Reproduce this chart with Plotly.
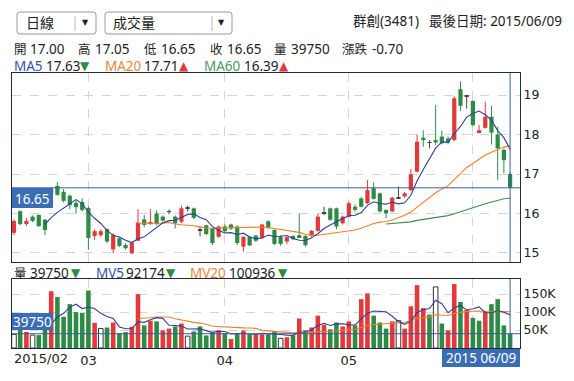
import plotly.graph_objects as go
import pandas as pd

# ---------------- data ----------------
opens = [15.51, 16.06, 15.73, 15.92, 15.96, 15.84, 16.50, 16.70, 16.55, 16.45,
         16.27, 16.29, 16.14, 15.43, 15.45, 15.60, 15.09, 15.37, 15.20, 14.99,
         15.31, 15.85, 15.74, 16.00, 15.92, 16.05, 15.92, 15.79, 16.13, 16.13,
         15.58, 15.70, 15.62, 15.41, 15.67, 15.72, 15.67, 15.16, 15.41, 15.44,
         15.38, 15.80, 15.58, 15.41, 15.29, 15.43, 15.45, 15.43, 15.43, 15.56,
         16.02, 16.13, 16.13, 15.75, 15.92, 16.17, 16.38, 16.26, 16.64, 16.51,
         16.09, 16.05, 16.40, 16.43, 16.59, 17.06, 17.92, 17.80, 17.86, 17.95,
         17.90, 17.86, 19.15, 18.98, 18.85, 18.06, 18.17, 18.45, 18.00, 17.61,
         17.00]
highs = [15.85, 16.08, 15.89, 15.95, 15.98, 15.86, 16.66, 16.80, 16.62, 16.48,
         16.33, 16.38, 16.18, 15.60, 15.60, 15.62, 15.50, 15.40, 15.25, 15.28,
         16.11, 15.96, 16.11, 16.08, 15.95, 16.10, 15.95, 16.20, 16.20, 16.15,
         15.67, 15.72, 15.64, 15.69, 15.72, 15.74, 15.70, 15.42, 15.43, 15.46,
         15.74, 15.83, 15.60, 15.45, 15.42, 15.46, 16.00, 15.45, 15.58, 16.00,
         16.17, 16.15, 16.15, 15.95, 16.30, 16.22, 16.42, 16.85, 16.79, 16.53,
         16.10, 16.42, 16.68, 16.55, 17.13, 18.00, 18.11, 17.86, 18.75, 18.10,
         17.95, 18.97, 19.35, 19.00, 18.87, 18.24, 18.83, 18.73, 18.20, 17.65,
         17.05]
lows = [15.45, 15.70, 15.68, 15.78, 15.66, 15.45, 16.44, 16.45, 16.28, 16.11,
        16.00, 16.05, 15.08, 15.33, 15.40, 15.25, 14.99, 15.15, 15.08, 14.97,
        15.30, 15.65, 15.71, 15.70, 15.80, 15.98, 15.62, 15.75, 16.05, 15.85,
        15.42, 15.45, 15.20, 15.38, 15.50, 15.58, 15.20, 15.03, 15.17, 15.28,
        15.36, 15.60, 15.20, 15.18, 15.22, 15.33, 15.38, 15.15, 15.40, 15.54,
        15.96, 15.82, 15.60, 15.72, 15.90, 16.05, 16.15, 16.24, 16.35, 16.03,
        15.88, 16.03, 16.40, 16.40, 16.57, 17.04, 17.69, 17.65, 17.73, 17.75,
        17.75, 17.84, 18.60, 18.66, 18.20, 18.03, 18.15, 17.75, 16.85, 17.02,
        16.65]
closes = [15.81, 15.73, 15.81, 15.81, 15.68, 15.58, 16.60, 16.47, 16.32, 16.21,
          16.16, 16.09, 15.38, 15.55, 15.55, 15.29, 15.46, 15.18, 15.12, 15.26,
          15.77, 15.71, 15.78, 15.73, 15.82, 16.05, 15.75, 16.13, 16.13, 15.89,
          15.58, 15.48, 15.25, 15.67, 15.55, 15.62, 15.25, 15.41, 15.19, 15.31,
          15.72, 15.63, 15.23, 15.23, 15.40, 15.35, 15.40, 15.20, 15.56, 15.92,
          16.02, 15.84, 15.67, 15.92, 16.26, 16.09, 16.17, 16.59, 16.37, 16.05,
          16.00, 16.40, 16.40, 16.51, 16.99, 17.82, 17.86, 17.80, 17.80, 17.78,
          17.80, 18.92, 18.73, 18.98, 18.24, 18.11, 18.45, 18.05, 17.65, 17.35,
          16.65]
volumes = [38000, 55000, 45000, 36000, 36000, 60000, 158000, 142000, 87000, 122000,
           100000, 98000, 160000, 70000, 54000, 57000, 71000, 41000, 44000, 59000,
           150000, 63000, 76000, 74000, 49000, 54000, 60000, 68000, 33000, 46000,
           60000, 35000, 44000, 49000, 41000, 25000, 41000, 49000, 38000, 38000,
           38000, 38000, 46000, 27000, 30000, 35000, 82000, 49000, 57000, 90000,
           65000, 52000, 71000, 60000, 74000, 63000, 136000, 152000, 90000, 71000,
           54000, 74000, 76000, 54000, 116000, 175000, 111000, 93000, 170000, 68000,
           49000, 178000, 128000, 106000, 84000, 76000, 100000, 122000, 136000, 63000,
           39750]
# volume bar state vs previous close: r = up, g = down, w = unchanged
vol_dir = list("wgrwggrggg" "gggrwgrggr" "rgrgrrgrwg" "gggrgrgrgr" "rggwrgrgrr"
               "rggrrgrrgg" "grwrrrrgwg" "rrgrggrggg" "g")

month_ticks = [12, 34, 54, 74]
month_labels = ["03", "04", "05", ""]
first_month_label = "2015/02"
last_date_label = "2015 06/09"
price_ticks = [15, 16, 17, 18, 19]
price_tick_labels = ["15", "16", "17", "18", "19"]
vol_ticks = [50000, 100000, 150000]
vol_tick_labels = ["50K", "100K", "150K"]

stock_name = "群創(3481)"
last_date_text = "最後日期: 2015/06/09"
period_label = "日線"
indicator_label = "成交量"
quote_names = ["開", "高", "低", "收", "量", "漲跌"]
quote_values = ["17.00", "17.05", "16.65", "16.65", "39750", "-0.70"]
ma_names = ["MA5", "MA20", "MA60"]
ma_values = ["17.63", "17.71", "16.39"]
ma_arrows = ["▼", "▲", "▲"]
vol_names = ["量", "MV5", "MV20"]
vol_values = ["39750", "92174", "100936"]
vol_arrows = ["▼", "▼", "▼"]
last_price_label = "16.65"
last_vol_label = "39750"

# ---------------- geometry helpers ----------------
W, H = 574, 381
ML, MR, MT, MB = 12, 54, 73, 33
PW = W - ML - MR
PH = H - MT - MB


def pxx(x):
    return (x - ML) / PW


def pxy(y):
    return (H - MB - y) / PH


RED = "#e2393c"
GREEN = "#2e8b46"
DOJI = "#444444"
BLUE_BOX = "#3b6db5"
LINE_BLUE = "#3a5f9a"
MA5_C = "#2e4196"
MA20_C = "#f07f2a"
MA60_C = "#3f8c4e"
MA5_T = "#3a4fa8"
MA20_T = "#f0823a"
MA60_T = "#4b9a5e"
AXIS_C = "#1d2b45"
GRID_C = "#d4d4d4"
TXT = "#222222"
FONT = "Noto Sans, Noto Sans CJK TC, sans-serif"
TICK_FONT = "DejaVu Sans, sans-serif"

N = len(closes)
xs = list(range(N))

fig = go.Figure()

# ---------------- candlesticks (wicks + bodies) ----------------
groups = {"r": ([], [], [], [], []), "g": ([], [], [], [], []), "d": ([], [], [], [], [])}
for i, (o, h, l, c) in enumerate(zip(opens, highs, lows, closes)):
    k = "r" if c > o else ("g" if c < o else "d")
    bx, bb, bh, wx, wy = groups[k]
    lo, hi = min(o, c), max(o, c)
    if hi - lo < 0.015:
        lo, hi = (o + c) / 2 - 0.009, (o + c) / 2 + 0.009
    bx.append(i)
    bb.append(lo)
    bh.append(hi - lo)
    wx += [i, i, None]
    wy += [l, h, None]

kcol = {"r": RED, "g": GREEN, "d": DOJI}
for k, (bx, bb, bh, wx, wy) in groups.items():
    fig.add_trace(go.Scatter(x=wx, y=wy, mode="lines", line=dict(color=kcol[k], width=1),
                             xaxis="x", yaxis="y", hoverinfo="skip"))
for k, (bx, bb, bh, wx, wy) in groups.items():
    fig.add_trace(go.Bar(x=bx, y=bh, base=bb, width=0.68, marker=dict(color=kcol[k], line=dict(width=0)),
                         xaxis="x", yaxis="y", hoverinfo="skip"))

# ---------------- moving averages ----------------
cs = pd.Series(closes)
vs = pd.Series(volumes, dtype=float)


def ma(series, n, start):
    m = series.rolling(n, min_periods=n).mean()
    m[:start] = float("nan")
    return m.tolist()


fig.add_trace(go.Scatter(x=xs, y=ma(cs, 60, 60), mode="lines", line=dict(color=MA60_C, width=1.1),
                         xaxis="x", yaxis="y", hoverinfo="skip"))
fig.add_trace(go.Scatter(x=xs, y=ma(cs, 20, 20), mode="lines", line=dict(color=MA20_C, width=1.1),
                         xaxis="x", yaxis="y", hoverinfo="skip"))
fig.add_trace(go.Scatter(x=xs, y=ma(cs, 5, 5), mode="lines", line=dict(color=MA5_C, width=1.1),
                         xaxis="x", yaxis="y", hoverinfo="skip"))

# ---------------- volume bars ----------------
vcol = {"r": (RED, RED, 0), "g": (GREEN, GREEN, 0), "w": ("#ffffff", "#333333", 1)}
for k in ["r", "g", "w"]:
    ix = [i for i in xs if vol_dir[i] == k]
    fig.add_trace(go.Bar(x=ix, y=[volumes[i] for i in ix], width=0.74,
                         marker=dict(color=vcol[k][0], line=dict(color=vcol[k][1], width=vcol[k][2])),
                         xaxis="x2", yaxis="y2", hoverinfo="skip"))
fig.add_trace(go.Scatter(x=xs, y=ma(vs, 20, 20), mode="lines", line=dict(color=MA20_C, width=1.1),
                         xaxis="x2", yaxis="y2", hoverinfo="skip"))
fig.add_trace(go.Scatter(x=xs, y=ma(vs, 5, 5), mode="lines", line=dict(color=MA5_C, width=1.1),
                         xaxis="x2", yaxis="y2", hoverinfo="skip"))

# ---------------- layout ----------------
xr = [-0.32, 81.6]
axis_common = dict(showline=True, mirror=True, linecolor=AXIS_C, linewidth=1, zeroline=False,
                   showgrid=True, gridcolor=GRID_C, griddash="dash", gridwidth=1, ticks="",
                   fixedrange=True)
xtick_font = dict(size=13, color=TXT, family=TICK_FONT)
ytick_font = dict(size=12.5, color=TXT, family=TICK_FONT)
fig.update_layout(
    width=W, height=H, margin=dict(l=ML, r=MR, t=MT, b=MB),
    paper_bgcolor="white", plot_bgcolor="white", showlegend=False, barmode="overlay",
    hovermode=False,
    font=dict(family=FONT, color=TXT, size=13),
    xaxis=dict(domain=[0, 1], range=xr, anchor="y", tickvals=month_ticks, showticklabels=False, **axis_common),
    xaxis2=dict(domain=[0, 1], range=xr, anchor="y2", tickvals=month_ticks, ticktext=month_labels,
                tickfont=xtick_font, **axis_common),
    yaxis=dict(domain=[pxy(262), 1], range=[14.77, 19.56], side="right", tickvals=price_ticks,
               ticktext=price_tick_labels, tickfont=ytick_font, **axis_common),
    yaxis2=dict(domain=[0, pxy(279)], range=[0, 192000], side="right", tickvals=vol_ticks,
                ticktext=vol_tick_labels, tickfont=ytick_font, **axis_common),
)

shapes = []
# last price / last volume reference lines
shapes.append(dict(type="line", xref="x domain", yref="y", x0=0, x1=1, y0=closes[-1], y1=closes[-1],
                   line=dict(color=LINE_BLUE, width=1)))
shapes.append(dict(type="line", xref="x domain", yref="y2", x0=0, x1=1, y0=volumes[-1], y1=volumes[-1],
                   line=dict(color=LINE_BLUE, width=1)))
shapes.append(dict(type="line", xref="x", yref="y domain", x0=N - 1, x1=N - 1, y0=0, y1=1,
                   line=dict(color=LINE_BLUE, width=1)))
shapes.append(dict(type="line", xref="x2", yref="y2 domain", x0=N - 1, x1=N - 1, y0=0, y1=1,
                   line=dict(color=LINE_BLUE, width=1)))


def box(x0, y0, x1, y1, fill):
    return dict(type="rect", xref="paper", yref="paper", x0=pxx(x0), x1=pxx(x1), y0=pxy(y1), y1=pxy(y0),
                fillcolor=fill, line=dict(width=0), layer="above")


def rounded(x0, y0, x1, y1, r):
    X = pxx
    Y = pxy
    p = (f"M {X(x0 + r)},{Y(y0)} L {X(x1 - r)},{Y(y0)} Q {X(x1)},{Y(y0)} {X(x1)},{Y(y0 + r)} "
         f"L {X(x1)},{Y(y1 - r)} Q {X(x1)},{Y(y1)} {X(x1 - r)},{Y(y1)} "
         f"L {X(x0 + r)},{Y(y1)} Q {X(x0)},{Y(y1)} {X(x0)},{Y(y1 - r)} "
         f"L {X(x0)},{Y(y0 + r)} Q {X(x0)},{Y(y0)} {X(x0 + r)},{Y(y0)} Z")
    return dict(type="path", xref="paper", yref="paper", path=p, line=dict(color="#9a9a9a", width=1),
                fillcolor="white")


shapes.append(box(12, 188, 53, 208, BLUE_BOX))
shapes.append(box(12, 313, 53, 330, BLUE_BOX))
shapes.append(box(442, 349, 520, 367, BLUE_BOX))
shapes.append(rounded(17, 12, 96, 34, 3))
shapes.append(rounded(105, 12, 232, 34, 3))
for sx in (75, 212):
    shapes.append(dict(type="line", xref="paper", yref="paper", x0=pxx(sx), x1=pxx(sx), y0=pxy(16), y1=pxy(31),
                       line=dict(color="#bbbbbb", width=1)))
fig.update_layout(shapes=shapes)

ann = []


def text(t, x, y, anchor="left", size=13, color=TXT, family=FONT):
    ann.append(dict(text=t, x=pxx(x), y=pxy(y), xref="paper", yref="paper", xanchor=anchor, yanchor="middle",
                    showarrow=False, font=dict(size=size, color=color, family=family)))


text(period_label, 24, 23, size=14)
text("▼", 85, 23, anchor="center", size=8, family=TICK_FONT)
text(indicator_label, 111, 23, size=14)
text("▼", 221, 23, anchor="center", size=8, family=TICK_FONT)
text(stock_name, 351, 21, size=13.5)
text(last_date_text, 564, 21, anchor="right", size=13.5)

for name, val, xn, xv in zip(quote_names, quote_values,
                             [12, 76, 142, 208, 272, 340], [28, 93, 159, 225, 289, 370]):
    text(name, xn, 49, size=12.5)
    text(val, xv, 49, size=13.5)

arrow_col = {"▼": GREEN, "▲": RED}
for name, val, arr, xn, xv, xa, c in zip(ma_names, ma_values, ma_arrows,
                                         [12, 103, 202], [44, 142, 242], [78, 177, 277],
                                         [MA5_T, MA20_T, MA60_T]):
    text(name, xn, 66, size=13.5, color=c)
    text(val, xv, 66, size=13.5)
    text(arr, xa, 66, size=12, color=arrow_col[arr], family=TICK_FONT)

for name, val, arr, xn, xv, xa, c in zip(vol_names, vol_values, vol_arrows,
                                         [12, 94, 188], [28, 124, 227], [69, 164, 276],
                                         [TXT, MA5_T, MA20_T]):
    text(name, xn, 273, color=c, size=12.5 if name == "量" else 13.5)
    text(val, xv, 273, size=13.5)
    text(arr, xa, 273, size=12, color=arrow_col[arr], family=TICK_FONT)

text(last_price_label, 32.5, 198.5, anchor="center", color="white", size=13.5)
text(last_vol_label, 32.5, 321.5, anchor="center", color="white", size=13.5)
text(last_date_label, 481, 358, anchor="center", color="white", size=13.5)
text(first_month_label, 12, 358, family=TICK_FONT)
fig.update_layout(annotations=ann)

fig.write_html("out.html", config={"displayModeBar": False},
               post_script="document.body.style.margin='0px';")
